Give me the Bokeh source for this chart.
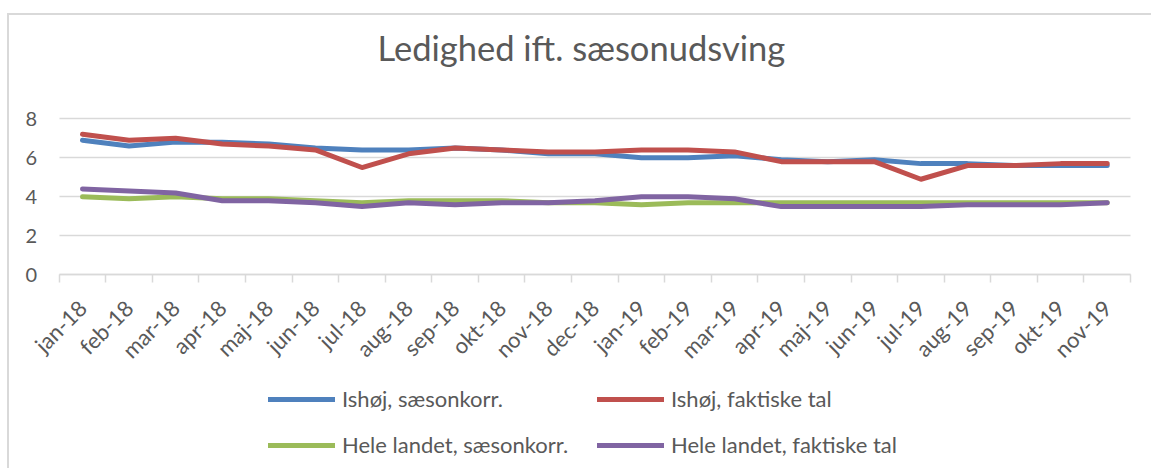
import math
from bokeh.plotting import figure
from bokeh.models import FixedTicker, Legend, LegendItem, Title, Range1d
from bokeh.embed import file_html
from bokeh.resources import INLINE

months = ["jan-18", "feb-18", "mar-18", "apr-18", "maj-18", "jun-18", "jul-18",
          "aug-18", "sep-18", "okt-18", "nov-18", "dec-18", "jan-19", "feb-19",
          "mar-19", "apr-19", "maj-19", "jun-19", "jul-19", "aug-19", "sep-19",
          "okt-19", "nov-19"]
ishoj_saeson = [6.9, 6.6, 6.8, 6.8, 6.7, 6.5, 6.4, 6.4, 6.5, 6.4, 6.2, 6.2,
                6.0, 6.0, 6.1, 5.9, 5.8, 5.9, 5.7, 5.7, 5.6, 5.6, 5.6]
ishoj_faktisk = [7.2, 6.9, 7.0, 6.7, 6.6, 6.4, 5.5, 6.2, 6.5, 6.4, 6.3, 6.3,
                 6.4, 6.4, 6.3, 5.8, 5.8, 5.8, 4.9, 5.6, 5.6, 5.7, 5.7]
land_saeson = [4.0, 3.9, 4.0, 3.9, 3.9, 3.8, 3.7, 3.8, 3.8, 3.8, 3.7, 3.7,
               3.6, 3.7, 3.7, 3.7, 3.7, 3.7, 3.7, 3.7, 3.7, 3.7, 3.7]
land_faktisk = [4.4, 4.3, 4.2, 3.8, 3.8, 3.7, 3.5, 3.7, 3.6, 3.7, 3.7, 3.8,
                4.0, 4.0, 3.9, 3.5, 3.5, 3.5, 3.5, 3.6, 3.6, 3.6, 3.7]
y_ticks = [0, 2, 4, 6, 8]

series = [
    ("Ishøj, sæsonkorr.", ishoj_saeson, "#4F81BD"),
    ("Ishøj, faktiske tal", ishoj_faktisk, "#C0504D"),
    ("Hele landet, sæsonkorr.", land_saeson, "#9BBB59"),
    ("Hele landet, faktiske tal", land_faktisk, "#8064A2"),
]

FONT = "Lato"
TXT = "#595959"
GRID = "#d9d9d9"

n = len(months)
xs = list(range(n))

# ---- layout geometry (page px) ----
OX, OY = 9, 15                # canvas origin on the page (after css margin + border)
W, H = 1144, 455
B_LEFT, B_RIGHT, B_TOP, B_BOTTOM = 11, 14, 60, 12
PLOT_L, PLOT_R = 58.7, 1130.0  # category band extent
Y8, Y0 = 117.3, 274.0          # pixel rows of values 8 and 0

fl, fr = OX + B_LEFT, OX + W - B_RIGHT
ft, fb = OY + B_TOP, OY + H - B_BOTTOM
ppx = (PLOT_R - PLOT_L) / n
x_start = -0.5 - (PLOT_L - fl) / ppx
x_end = n - 0.5 + (fr - PLOT_R) / ppx
ppu = (Y0 - Y8) / 8.0
y_max = 8 + (Y8 - ft) / ppu
y_min = -(fb - Y0) / ppu

p = figure(width=W, height=H, output_backend="svg", toolbar_location=None,
           x_range=Range1d(x_start, x_end), y_range=Range1d(y_min, y_max),
           min_border_left=B_LEFT, min_border_right=B_RIGHT,
           min_border_top=B_TOP, min_border_bottom=B_BOTTOM)
p.styles = {"margin-left": "7px", "margin-top": "13px",
            "border-left": "2px solid #d9d9d9", "border-top": "2px solid #d9d9d9",
            "border-right": "none", "border-bottom": "none"}
p.outline_line_color = None
p.background_fill_color = "white"
p.border_fill_color = "white"

p.title = Title(text="Ledighed ift. sæsonudsving", align="left",
                offset=380 - 3 - fl, standoff=18,
                text_font=FONT, text_font_size="34.5px", text_color=TXT,
                text_font_style="normal")

renderers = []
for name, vals, col in series:
    r = p.line(xs, vals, line_color=col, line_width=5,
               line_cap="round", line_join="round")
    renderers.append((name, r))

# x axis, pinned at value 0 and bounded to the category band
xa = p.xaxis[0]
xa.fixed_location = 0
xa.bounds = (-0.5, n - 0.5)
xa.ticker = FixedTicker(ticks=xs, minor_ticks=[i - 0.5 for i in range(n + 1)])
xa.major_label_overrides = {i: m for i, m in enumerate(months)}
xa.major_label_orientation = math.pi / 4
xa.major_tick_out = 0
xa.major_tick_in = 0
xa.minor_tick_out = 8
xa.minor_tick_in = 0
xa.minor_tick_line_color = GRID
xa.minor_tick_line_width = 1.5
xa.axis_line_color = GRID
xa.axis_line_width = 1.5
xa.major_label_text_font = FONT
xa.major_label_text_font_size = "22px"
xa.major_label_text_color = TXT
xa.major_label_standoff = 21

# y axis pinned at the left edge of the band; its inward ticks act as gridlines
ya = p.yaxis[0]
ya.fixed_location = -0.5
ya.bounds = (0, 8)
ya.level = "underlay"
ya.ticker = FixedTicker(ticks=y_ticks)
ya.axis_line_color = None
ya.major_tick_out = 0
ya.major_tick_in = int(round(PLOT_R - PLOT_L))
ya.major_tick_line_color = GRID
ya.major_tick_line_width = 1.5
ya.minor_tick_line_color = None
ya.major_label_text_font = FONT
ya.major_label_text_font_size = "20px"
ya.major_label_text_color = TXT
ya.major_label_standoff = 22

p.xgrid.grid_line_color = None
p.ygrid.grid_line_color = None

legend = Legend(items=[LegendItem(label=nm, renderers=[r]) for nm, r in renderers],
                location=(268 - fl, 458 - fb), orientation="horizontal", ncols=2,
                glyph_width=67, glyph_height=20, label_height=20,
                label_width=236, label_standoff=7, spacing=19,
                padding=0, margin=0,
                label_text_font=FONT, label_text_font_size="22px",
                label_text_color=TXT, border_line_color=None,
                background_fill_alpha=0)
p.add_layout(legend, "center")

open("out.html", "w").write(file_html(p, INLINE))
